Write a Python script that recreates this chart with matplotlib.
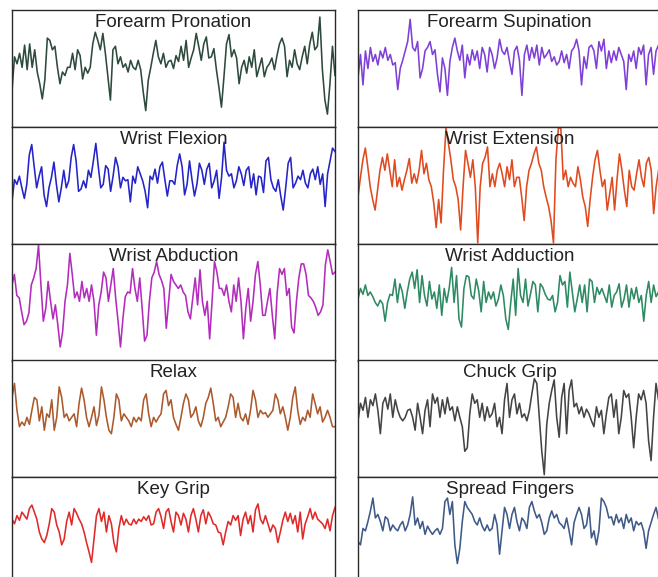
import matplotlib
matplotlib.use("Agg")
import matplotlib.pyplot as plt
import numpy as np

plt.rcParams['font.family'] = ['Liberation Sans', 'DejaVu Sans']

titles_left = ["Forearm Pronation", "Wrist Flexion", "Wrist Abduction", "Relax", "Key Grip"]
titles_right = ["Forearm Supination", "Wrist Extension", "Wrist Adduction", "Chuck Grip", "Spread Fingers"]

colors_left = ["#2e4a3c", "#2424c8", "#b42cbc", "#aa5a2c", "#e02a2a"]
colors_right = ["#7e40d6", "#e04a1e", "#2e8a62", "#444444", "#3f5a88"]

forearm_pronation = [31, 60, 54, 63, 51, 70, 49, 71, 51, 66, 47, 37, 24, 40, 76, 74, 66, 69, 51, 37, 47, 44, 51, 51, 63,
                     49, 66, 61, 41, 51, 46, 51, 71, 81, 74, 66, 80, 63, 43, 23, 66, 69, 54, 60, 51, 54, 47, 57, 51, 49,
                     57, 49, 30, 14, 40, 51, 63, 74, 60, 54, 63, 51, 56, 57, 50, 61, 56, 69, 57, 74, 51, 59, 66, 80, 69,
                     57, 71, 77, 59, 60, 67, 49, 34, 17, 43, 71, 79, 60, 66, 59, 37, 51, 57, 46, 60, 51, 66, 43, 51, 59,
                     43, 51, 54, 59, 49, 61, 71, 76, 69, 43, 57, 51, 66, 54, 49, 60, 69, 54, 71, 81, 66, 69, 94, 49, 23,
                     11, 37, 69, 44]

forearm_supination = [42, 62, 36, 65, 50, 68, 56, 62, 53, 65, 59, 68, 57, 62, 53, 55, 32, 50, 57, 65, 73, 92, 68, 65, 73,
                      42, 50, 65, 68, 73, 62, 66, 45, 30, 59, 50, 27, 56, 68, 76, 65, 57, 70, 42, 62, 53, 66, 57, 65, 50,
                      68, 62, 47, 68, 62, 50, 59, 75, 65, 62, 68, 56, 45, 65, 69, 57, 27, 62, 70, 57, 68, 59, 70, 53, 68,
                      59, 62, 66, 56, 60, 53, 56, 65, 55, 62, 50, 65, 68, 75, 65, 36, 60, 50, 68, 70, 65, 50, 73, 65, 75,
                      50, 65, 55, 65, 57, 68, 62, 56, 32, 62, 56, 65, 50, 68, 62, 70, 36, 62, 68, 45, 65, 70, 56]

wrist_flexion = [36, 55, 51, 58, 48, 39, 51, 76, 85, 66, 48, 58, 66, 42, 32, 48, 57, 70, 51, 36, 48, 63, 48, 54, 74,
                 85, 71, 45, 47, 54, 48, 63, 57, 71, 86, 66, 48, 51, 67, 64, 45, 58, 74, 66, 48, 57, 54, 55, 36, 58,
                 52, 66, 60, 54, 45, 31, 58, 55, 64, 52, 66, 70, 55, 41, 54, 54, 51, 67, 77, 66, 42, 51, 71, 55, 41,
                 51, 69, 63, 51, 64, 69, 48, 54, 63, 39, 57, 87, 63, 58, 60, 48, 54, 66, 60, 50, 63, 66, 48, 60, 42,
                 58, 57, 44, 71, 74, 55, 48, 45, 55, 41, 29, 48, 69, 74, 48, 52, 58, 55, 63, 52, 48, 60, 64, 55, 66,
                 51, 60, 32, 60, 71, 82, 79]

wrist_extension = [40, 57, 72, 82, 66, 49, 38, 29, 46, 63, 74, 63, 77, 63, 49, 72, 49, 57, 46, 55, 63, 73, 52, 60, 52,
                   63, 80, 60, 69, 55, 49, 35, 14, 38, 18, 63, 99, 86, 72, 55, 49, 38, 12, 49, 80, 69, 57, 72, 49, 1,
                   49, 69, 74, 83, 49, 60, 49, 63, 69, 60, 49, 66, 55, 72, 49, 57, 57, 40, 20, 49, 63, 69, 77, 83, 69,
                   63, 49, 40, 32, 20, 1, 72, 99, 99, 55, 63, 49, 57, 52, 49, 66, 55, 40, 32, 15, 38, 57, 72, 80, 63,
                   49, 55, 29, 43, 57, 29, 55, 77, 63, 46, 32, 63, 49, 46, 60, 72, 57, 49, 69, 74, 63, 26, 49, 63, 72]

wrist_abduction = [65, 74, 56, 54, 42, 31, 34, 41, 65, 71, 79, 99, 65, 34, 45, 68, 51, 36, 48, 31, 12, 25, 51, 65, 92,
                   74, 54, 59, 51, 68, 54, 62, 51, 65, 51, 22, 48, 59, 76, 71, 51, 65, 79, 54, 34, 12, 36, 55, 59, 58,
                   79, 62, 51, 71, 45, 17, 22, 51, 71, 76, 85, 74, 69, 62, 28, 51, 74, 68, 65, 62, 65, 59, 56, 42, 36,
                   54, 71, 48, 78, 51, 39, 51, 19, 51, 85, 76, 62, 62, 56, 65, 51, 42, 65, 51, 71, 51, 19, 45, 62, 34,
                   51, 74, 85, 65, 39, 39, 51, 62, 39, 19, 58, 79, 74, 79, 56, 62, 29, 24, 51, 71, 83, 83, 74, 56, 54,
                   51, 46, 39, 42, 48, 82, 95, 85, 74, 76]

wrist_adduction = [53, 62, 57, 65, 56, 59, 55, 50, 47, 52, 49, 34, 50, 57, 56, 70, 50, 66, 59, 45, 59, 70, 76, 62, 78,
                   50, 73, 56, 47, 68, 53, 59, 45, 65, 39, 62, 50, 62, 80, 50, 73, 36, 29, 62, 73, 72, 56, 53, 70, 60,
                   42, 68, 50, 59, 53, 59, 47, 53, 65, 56, 36, 27, 50, 70, 39, 79, 56, 50, 70, 47, 57, 68, 65, 42, 66,
                   63, 57, 53, 52, 56, 42, 50, 73, 65, 68, 46, 76, 59, 42, 53, 65, 50, 65, 42, 70, 68, 50, 63, 57, 62,
                   56, 50, 65, 46, 56, 59, 66, 46, 53, 65, 46, 62, 53, 63, 50, 56, 34, 56, 68, 50, 65, 55, 59, 52]

relax = [68, 80, 57, 43, 47, 44, 51, 45, 57, 68, 66, 48, 60, 40, 54, 51, 66, 40, 51, 77, 68, 51, 54, 48, 51,
         54, 43, 63, 76, 66, 51, 43, 51, 60, 44, 53, 77, 66, 51, 40, 37, 51, 71, 66, 48, 54, 51, 48, 43, 51,
         47, 51, 48, 66, 71, 54, 43, 51, 47, 51, 54, 71, 74, 61, 66, 51, 45, 40, 51, 63, 71, 66, 51, 54, 60,
         48, 43, 51, 63, 68, 76, 63, 48, 51, 43, 47, 51, 60, 71, 68, 51, 63, 51, 48, 54, 45, 57, 74, 66, 51,
         57, 54, 55, 51, 54, 57, 71, 66, 54, 60, 51, 40, 51, 68, 77, 57, 45, 51, 48, 57, 51, 71, 63, 54, 60,
         47, 51, 57, 51, 43, 43]

chuck_grip = [48, 63, 57, 68, 51, 66, 61, 71, 57, 37, 63, 68, 58, 71, 51, 66, 57, 51, 48, 51, 57, 58, 51, 40, 63,
              51, 37, 57, 66, 43, 71, 63, 68, 51, 66, 54, 68, 57, 60, 48, 60, 51, 43, 22, 25, 54, 71, 63, 66, 51,
              63, 48, 60, 51, 54, 63, 43, 51, 37, 66, 80, 51, 66, 71, 54, 63, 51, 54, 48, 57, 71, 84, 80, 51, 22,
              2, 45, 63, 74, 83, 51, 34, 68, 80, 37, 74, 83, 60, 63, 54, 60, 51, 58, 54, 48, 43, 60, 51, 57, 37,
              54, 68, 71, 51, 66, 37, 51, 74, 68, 71, 51, 25, 51, 71, 66, 74, 63, 31, 14, 51, 80, 66, 57]

key_grip = [64, 60, 67, 63, 70, 67, 64, 73, 76, 70, 64, 53, 47, 44, 50, 60, 73, 70, 59, 53, 42, 47, 62, 70, 59,
            73, 69, 64, 60, 53, 44, 36, 27, 47, 67, 73, 62, 70, 53, 67, 60, 44, 36, 56, 67, 59, 64, 60, 59, 64,
            60, 64, 62, 66, 63, 67, 59, 60, 70, 73, 66, 56, 70, 73, 62, 53, 70, 67, 59, 69, 64, 53, 67, 73, 64,
            53, 67, 72, 60, 70, 66, 60, 59, 53, 52, 42, 53, 62, 59, 67, 63, 67, 50, 64, 70, 60, 67, 53, 72, 77,
            64, 60, 67, 60, 53, 59, 56, 44, 53, 63, 70, 62, 69, 60, 67, 53, 70, 47, 60, 66, 73, 64, 70, 64, 62,
            60, 56, 64, 54, 67, 74]

spread_fingers = [45, 42, 56, 54, 62, 71, 82, 65, 68, 62, 54, 66, 64, 54, 59, 56, 54, 59, 62, 54, 59, 68, 83, 59, 65,
                  56, 62, 51, 58, 54, 51, 54, 56, 51, 56, 79, 82, 68, 79, 42, 26, 39, 62, 79, 74, 71, 68, 62, 59, 65,
                  58, 54, 59, 54, 56, 68, 59, 34, 54, 74, 68, 56, 68, 74, 62, 54, 65, 62, 56, 74, 79, 71, 65, 68, 61,
                  51, 54, 65, 71, 65, 68, 61, 59, 56, 65, 54, 42, 61, 68, 74, 68, 56, 59, 74, 48, 54, 42, 54, 82, 79,
                  74, 65, 66, 59, 68, 61, 65, 56, 68, 61, 65, 54, 62, 59, 61, 54, 39, 54, 61, 68, 74, 64, 71]

left_series = [forearm_pronation, wrist_flexion, wrist_abduction, relax, key_grip]
right_series = [forearm_supination, wrist_extension, wrist_adduction, chuck_grip, spread_fingers]

W, H = 658, 577
fig = plt.figure(figsize=(W / 100, H / 100), dpi=100)
fig.patch.set_facecolor("white")

row_tops = [10, 127, 244, 360, 477]
ph = 117
cols = [(12, 335), (358, 661)]


def make_panel(x0, x1, top, values, color, title):
    ax = fig.add_axes([x0 / W, 1 - (top + ph) / H, (x1 - x0) / W, ph / H])
    y = np.asarray(values, dtype=float)
    x = np.arange(len(y))
    ax.plot(x, y, color=color, lw=1.15, solid_joinstyle="round")
    ax.set_xlim(0, len(y) - 1)
    ax.set_ylim(0, 100)
    ax.set_xticks([])
    ax.set_yticks([])
    for s in ax.spines.values():
        s.set_color("#2a2a2a")
        s.set_linewidth(1.0)
    ax.text(0.5, 0.89, title, transform=ax.transAxes, ha="center", va="center",
            fontsize=13.5, color="#222222")
    return ax


for i in range(5):
    make_panel(cols[0][0], cols[0][1], row_tops[i], left_series[i], colors_left[i], titles_left[i])
    make_panel(cols[1][0], cols[1][1], row_tops[i], right_series[i], colors_right[i], titles_right[i])

fig.savefig("out.png", dpi=100, facecolor="white")
